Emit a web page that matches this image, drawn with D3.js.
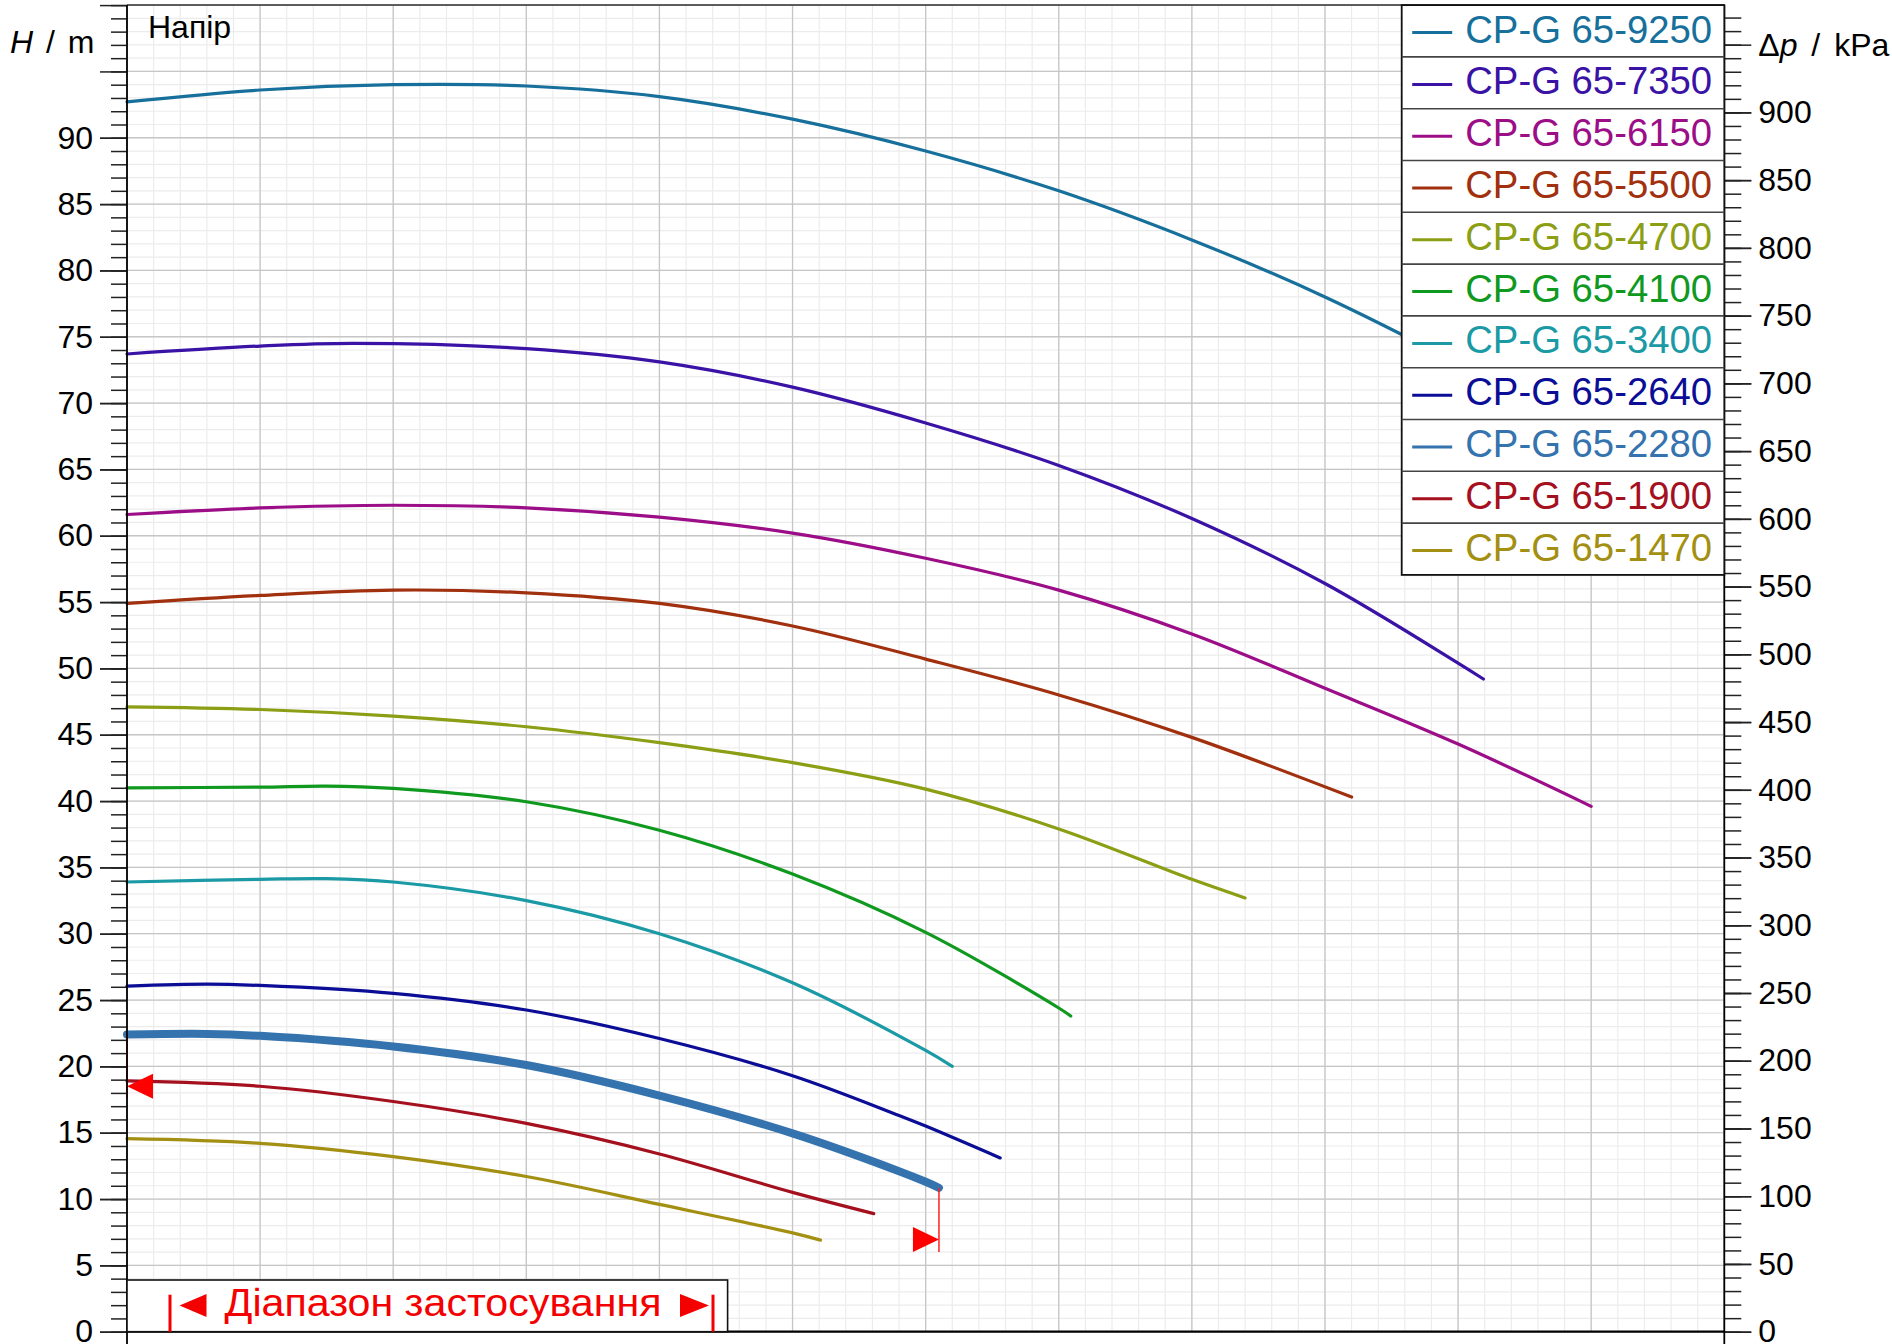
<!DOCTYPE html>
<html>
<head>
<meta charset="utf-8">
<script src="https://cdnjs.cloudflare.com/ajax/libs/d3/7.8.5/d3.min.js"></script>
<style>
	body { margin: 0; background: #fff; }
	#chart_div { width: 1892px; height: 1344px; }
	text { font-family: 'Liberation Sans', Arial, sans-serif; }
</style>
</head>
<body>
<div id="chart_div"></div>
<script>
// pump curves: [flow m3/h, head m]
var curve_9250 = [[0, 92.7], [10, 93.6], [20, 94.0], [30, 93.9], [40, 93.1], [50, 91.4], [60, 89.0], [70, 86.0], [80, 82.3], [90, 78.0], [100, 73.0]];
var curve_7350 = [[0, 73.7], [10, 74.3], [17, 74.5], [30, 74.1], [40, 73.1], [50, 71.2], [60, 68.5], [70, 65.3], [80, 61.3], [90, 56.4], [100, 50.4], [101.9, 49.2]];
var curve_6150 = [[0, 61.6], [10, 62.1], [20, 62.3], [30, 62.1], [40, 61.4], [50, 60.2], [60, 58.3], [70, 55.9], [80, 52.6], [90, 48.5], [100, 44.3], [110, 39.6]];
var curve_5500 = [[0, 54.9], [10, 55.5], [20, 55.9], [30, 55.7], [40, 54.9], [50, 53.2], [60, 50.7], [70, 48.0], [80, 44.8], [92, 40.3]];
var curve_4700 = [[0, 47.1], [10, 46.9], [20, 46.4], [30, 45.6], [40, 44.4], [50, 42.9], [60, 40.9], [70, 37.9], [80, 34.1], [84, 32.7]];
var curve_4100 = [[0, 41.0], [10, 41.05], [15, 41.13], [20, 40.95], [30, 39.95], [40, 37.8], [50, 34.5], [60, 30.1], [70, 24.4], [70.9, 23.8]];
var curve_3400 = [[0, 33.9], [10, 34.1], [15, 34.15], [20, 33.9], [30, 32.5], [40, 30.0], [50, 26.3], [60, 21.2], [62, 20.0]];
var curve_2640 = [[0, 26.05], [6, 26.2], [10, 26.1], [20, 25.5], [30, 24.25], [40, 22.1], [50, 19.3], [58, 16.3], [60, 15.5], [65.6, 13.1]];
var curve_2280 = [[0, 22.4], [6, 22.45], [10, 22.3], [20, 21.5], [30, 20.1], [40, 17.8], [50, 14.95], [58, 12.1], [60, 11.3], [61, 10.85]];
var curve_1900 = [[0, 18.9], [10, 18.5], [20, 17.35], [30, 15.7], [40, 13.4], [50, 10.5], [56.1, 8.9]];
var curve_1470 = [[0, 14.55], [10, 14.2], [20, 13.2], [30, 11.7], [40, 9.6], [50, 7.45], [52.1, 6.9]];

var pump_names = ['CP-G 65-9250', 'CP-G 65-7350', 'CP-G 65-6150', 'CP-G 65-5500', 'CP-G 65-4700', 'CP-G 65-4100', 'CP-G 65-3400', 'CP-G 65-2640', 'CP-G 65-2280', 'CP-G 65-1900', 'CP-G 65-1470'];
var pump_curves = [curve_9250, curve_7350, curve_6150, curve_5500, curve_4700, curve_4100, curve_3400, curve_2640, curve_2280, curve_1900, curve_1470];
var pump_colours = ['#17709b', '#3a12a6', '#9c0d88', '#a1300e', '#8c9e14', '#10991f', '#1b9aa5', '#0b0d96', '#3573ae', '#a5101f', '#a38f12'];
var selected_pump = 'CP-G 65-2280';

// operating range marks on the selected curve: [flow, head]
var range_left = [0, 18.5];
var range_right = [61, 6.95];

var head_labels = [0, 5, 10, 15, 20, 25, 30, 35, 40, 45, 50, 55, 60, 65, 70, 75, 80, 85, 90];
var pressure_labels = [0, 50, 100, 150, 200, 250, 300, 350, 400, 450, 500, 550, 600, 650, 700, 750, 800, 850, 900];
var kpa_per_m = 9.792;

var chart = {};

function draw_chart() {
	var svg = draw_svg('chart_div');
	chart.x_scale = d3.scaleLinear().domain([0, 120]).range([127, 1724.3]);
	chart.y_scale = d3.scaleLinear().domain([0, 100]).range([1331.7, 5.1]);
	chart.kpa_scale = d3.scaleLinear().domain([0, 100 * kpa_per_m]).range([1331.7, 5.1]);

	draw_grid(svg);
	draw_curves(svg);
	draw_range_marks(svg);
	draw_axes(svg);
	draw_legend(svg);
	draw_range_box(svg);
}

function draw_grid(svg) {
	var x = chart.x_scale;
	var y = chart.y_scale;
	var grid = svg.append('g').attr('class', 'grid');

	grid.selectAll('.v_minor')
		.data(x.ticks(60))
		.enter()
		.append('line')
		.attr('x1', (d) => x(d))
		.attr('x2', (d) => x(d))
		.attr('y1', y(100))
		.attr('y2', y(0))
		.attr('stroke', '#ececec')
		.attr('stroke-width', 1.2);

	grid.selectAll('.h_minor')
		.data(y.ticks(100))
		.enter()
		.append('line')
		.attr('x1', x(0))
		.attr('x2', x(120))
		.attr('y1', (d) => y(d))
		.attr('y2', (d) => y(d))
		.attr('stroke', '#ececec')
		.attr('stroke-width', 1.2);

	grid.selectAll('.v_major')
		.data(x.ticks(12))
		.enter()
		.append('line')
		.attr('x1', (d) => x(d))
		.attr('x2', (d) => x(d))
		.attr('y1', y(100))
		.attr('y2', y(0))
		.attr('stroke', '#c6c6c6')
		.attr('stroke-width', 1.3);

	grid.selectAll('.h_major')
		.data(y.ticks(20))
		.enter()
		.append('line')
		.attr('x1', x(0))
		.attr('x2', x(120))
		.attr('y1', (d) => y(d))
		.attr('y2', (d) => y(d))
		.attr('stroke', '#c6c6c6')
		.attr('stroke-width', 1.3);
}

function draw_curves(svg) {
	var line = d3
		.line()
		.x((d) => chart.x_scale(d[0]))
		.y((d) => chart.y_scale(d[1]))
		.curve(d3.curveCatmullRom.alpha(0.5));

	svg.append('g')
		.attr('class', 'curves')
		.selectAll('path')
		.data(pump_curves)
		.enter()
		.append('path')
		.attr('d', (d) => line(d))
		.attr('fill', 'none')
		.attr('stroke', (d, i) => pump_colours[i])
		.attr('stroke-width', (d, i) => (pump_names[i] === selected_pump ? 8 : 3.2))
		.attr('stroke-linecap', 'round')
		.attr('stroke-linejoin', 'round');
}

function draw_range_marks(svg) {
	var x = chart.x_scale;
	var y = chart.y_scale;
	var sel = pump_curves[pump_names.indexOf(selected_pump)];
	var first = sel[0];
	var last = sel[sel.length - 1];
	var g = svg.append('g').attr('class', 'range_marks');

	// thin red drop lines from curve ends to the markers
	g.append('line')
		.attr('x1', x(first[0]))
		.attr('x2', x(first[0]))
		.attr('y1', y(first[1]))
		.attr('y2', y(range_left[1]) + 12.5)
		.attr('stroke', '#ff2020')
		.attr('stroke-width', 1.5);
	g.append('line')
		.attr('x1', x(last[0]))
		.attr('x2', x(last[0]))
		.attr('y1', y(last[1]))
		.attr('y2', y(range_right[1]) + 12.5)
		.attr('stroke', '#ff2020')
		.attr('stroke-width', 1.5);

	var lx = x(range_left[0]);
	var ly = y(range_left[1]);
	g.append('path')
		.attr('d', 'M' + lx + ',' + ly + 'L' + (lx + 26) + ',' + (ly - 12.5) + 'L' + (lx + 26) + ',' + (ly + 12.5) + 'Z')
		.attr('fill', '#ff0000');
	var rx = x(range_right[0]);
	var ry = y(range_right[1]);
	g.append('path')
		.attr('d', 'M' + rx + ',' + ry + 'L' + (rx - 26) + ',' + (ry - 12.5) + 'L' + (rx - 26) + ',' + (ry + 12.5) + 'Z')
		.attr('fill', '#ff0000');
}

function draw_axes(svg) {
	var x = chart.x_scale;
	var y = chart.y_scale;
	var kpa = chart.kpa_scale;

	// top border
	svg.append('line')
		.attr('x1', x(0))
		.attr('x2', x(120))
		.attr('y1', y(100))
		.attr('y2', y(100))
		.attr('stroke', '#333')
		.attr('stroke-width', 1.5);

	var left_minor = d3.axisLeft(y).tickValues(y.ticks(100)).tickSize(16).tickFormat('');
	var left_major = d3.axisLeft(y).tickValues(y.ticks(20)).tickSize(27).tickFormat('');
	var left_labels = d3.axisLeft(y).tickValues(head_labels).tickSize(27).tickPadding(7);
	var right_minor = d3.axisRight(kpa).tickValues(kpa.ticks(98)).tickSize(17).tickFormat('');
	var right_major = d3.axisRight(kpa).tickValues(kpa.ticks(20)).tickSize(27).tickFormat('');
	var right_labels = d3.axisRight(kpa).tickValues(pressure_labels).tickSize(27).tickPadding(7);

	var axes = [
		[left_minor, x(0)],
		[left_major, x(0)],
		[left_labels, x(0)],
		[right_minor, x(120)],
		[right_major, x(120)],
		[right_labels, x(120)],
	];
	for (a in axes) {
		var g = svg.append('g')
			.attr('class', 'axis')
			.attr('transform', 'translate(' + axes[a][1] + ',0)')
			.call(axes[a][0]);
		g.select('.domain').remove();
		g.selectAll('line').attr('stroke', '#222').attr('stroke-width', 1.5);
		g.selectAll('text')
			.attr('font-size', 32)
			.attr('fill', '#000')
			.style('font-family', "'Liberation Sans', Arial, sans-serif");
	}

	// axis lines (run down past the bottom edge)
	svg.append('line')
		.attr('x1', x(0))
		.attr('x2', x(0))
		.attr('y1', y(100))
		.attr('y2', 1344)
		.attr('stroke', '#000')
		.attr('stroke-width', 1.8);
	svg.append('line')
		.attr('x1', x(120))
		.attr('x2', x(120))
		.attr('y1', y(100))
		.attr('y2', 1344)
		.attr('stroke', '#000')
		.attr('stroke-width', 1.8);
	svg.append('line')
		.attr('x1', x(0))
		.attr('x2', x(120))
		.attr('y1', y(0))
		.attr('y2', y(0))
		.attr('stroke', '#000')
		.attr('stroke-width', 2.2);

	var h_label = svg.append('text')
		.attr('x', 10)
		.attr('y', 53)
		.attr('font-size', 32)
		.attr('word-spacing', 4)
		.attr('fill', '#000');
	h_label.append('tspan').attr('font-style', 'italic').text('H');
	h_label.append('tspan').text(' / m');

	var p_label = svg.append('text')
		.attr('x', x(120) + 34)
		.attr('y', kpa(950) + 11)
		.attr('font-size', 32)
		.attr('word-spacing', 5)
		.attr('fill', '#000');
	p_label.append('tspan').text('Δ');
	p_label.append('tspan').attr('font-style', 'italic').text('p');
	p_label.append('tspan').text(' / kPa');

	svg.append('text')
		.attr('x', 148)
		.attr('y', 38)
		.attr('font-size', 32)
		.attr('fill', '#000')
		.text('Напір');
}

function draw_legend(svg) {
	var left = 1401.7;
	var right = chart.x_scale(120);
	var top = chart.y_scale(100);
	var row_height = 51.8;

	var legend = svg.append('g').attr('class', 'legend');
	legend.append('rect')
		.attr('x', left)
		.attr('y', top)
		.attr('width', right - left)
		.attr('height', row_height * pump_names.length)
		.attr('fill', '#fff')
		.attr('stroke', '#111')
		.attr('stroke-width', 1.8);

	var rows = legend.selectAll('.legend_row')
		.data(pump_names)
		.enter()
		.append('g')
		.attr('class', 'legend_row')
		.attr('transform', (d, i) => 'translate(0,' + (top + row_height * i) + ')');

	rows.filter((d, i) => i > 0)
		.append('line')
		.attr('x1', left)
		.attr('x2', right)
		.attr('y1', 0)
		.attr('y2', 0)
		.attr('stroke', '#444')
		.attr('stroke-width', 1.6);

	rows.append('line')
		.attr('x1', left + 10.5)
		.attr('x2', left + 50.5)
		.attr('y1', 27.5)
		.attr('y2', 27.5)
		.attr('stroke', (d, i) => pump_colours[i])
		.attr('stroke-width', 3);

	rows.append('text')
		.attr('x', left + 63.5)
		.attr('y', 37.5)
		.attr('font-size', 38.3)
		.attr('fill', (d, i) => pump_colours[i])
		.text((d) => d);
}

function draw_range_box(svg) {
	var left = chart.x_scale(0);
	var bottom = chart.y_scale(0);
	var box_w = 600.6;
	var box_h = 51.7;
	var red = '#f40000';
	var g = svg.append('g').attr('class', 'range_box');

	g.append('rect')
		.attr('x', left)
		.attr('y', bottom - box_h)
		.attr('width', box_w)
		.attr('height', box_h)
		.attr('fill', '#fff')
		.attr('stroke', '#111')
		.attr('stroke-width', 1.6);

	var mid = bottom - 26.2;
	g.append('line')
		.attr('x1', left + 43)
		.attr('x2', left + 43)
		.attr('y1', bottom - 37)
		.attr('y2', bottom)
		.attr('stroke', red)
		.attr('stroke-width', 3);
	g.append('path')
		.attr('d', 'M' + (left + 52.5) + ',' + mid + 'L' + (left + 79.5) + ',' + (mid - 11.5) + 'L' + (left + 79.5) + ',' + (mid + 11.5) + 'Z')
		.attr('fill', red);

	g.append('line')
		.attr('x1', left + 586)
		.attr('x2', left + 586)
		.attr('y1', bottom - 37)
		.attr('y2', bottom)
		.attr('stroke', red)
		.attr('stroke-width', 3);
	g.append('path')
		.attr('d', 'M' + (left + 582) + ',' + mid + 'L' + (left + 553) + ',' + (mid - 11.5) + 'L' + (left + 553) + ',' + (mid + 11.5) + 'Z')
		.attr('fill', red);

	g.append('text')
		.attr('x', left + 97.5)
		.attr('y', bottom - 15.5)
		.attr('font-size', 38)
		.attr('fill', red)
		.attr('textLength', 437)
		.attr('lengthAdjust', 'spacingAndGlyphs')
		.text('Діапазон застосування');
}

function draw_svg(div_id) {
	var chart_div = document.getElementById(div_id);
	var svg = d3
		.select('#' + div_id)
		.append('svg')
		.attr('class', div_id + '_svg')
		.attr('width', chart_div.clientWidth)
		.attr('height', chart_div.clientHeight);
	return svg;
}

draw_chart();
</script>
</body>
</html>
